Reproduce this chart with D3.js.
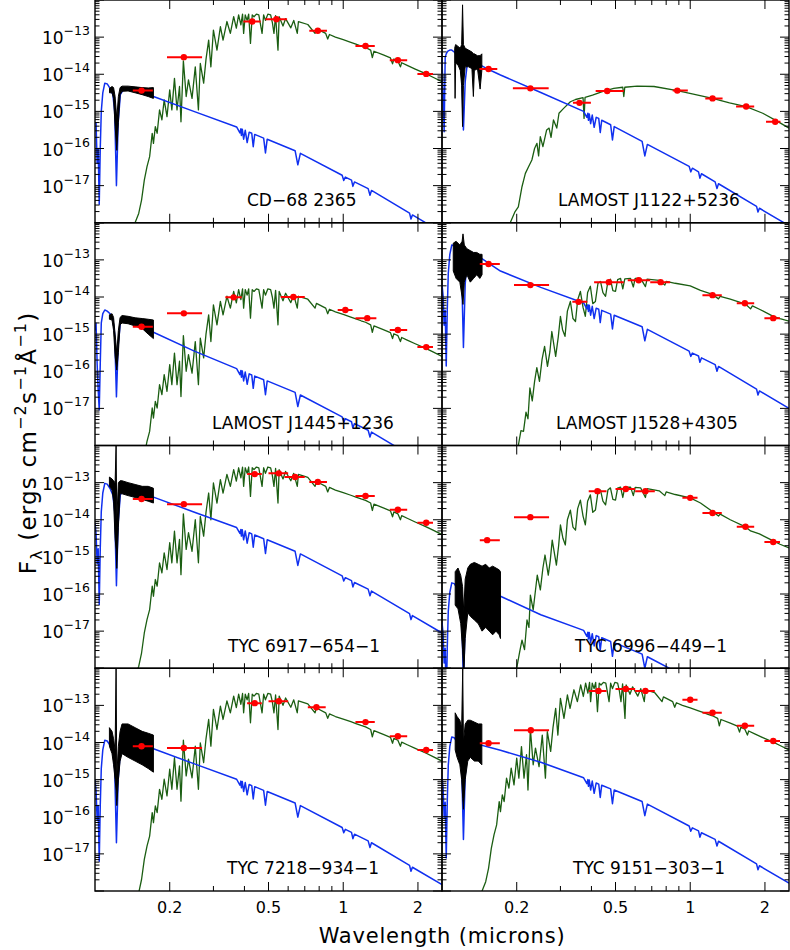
<!DOCTYPE html>
<html><head><meta charset="utf-8">
<script src="https://cdn.jsdelivr.net/npm/d3@7"></script>
<style>body{margin:0;background:#fff;} text{font-family:"DejaVu Sans",sans-serif;}</style>
</head><body>
<svg id="chart" width="790" height="950"></svg>
<script>
// ---------------- DATA ----------------
const panelNames = ["CD\u221268 2365","LAMOST J1122+5236","LAMOST J1445+1236","LAMOST J1528+4305",
  "TYC 6917\u2212654\u22121","TYC 6996\u2212449\u22121","TYC 7218\u2212934\u22121","TYC 9151\u2212303\u22121"];
const xMajorTicks = [0.2, 0.5, 1, 2];
const xTickLabels = ["0.2", "0.5", "1", "2"];
const xMinorTicks = [0.3, 0.4, 0.6, 0.7, 0.8, 0.9];
const yMajorExponents = [-12, -13, -14, -15, -16, -17, -18];
const yLabelExponents = [-13, -14, -15, -16, -17];

// photometry (microns, log10 flux)
const photLam = [
 [0.154,0.228,0.43,0.538,0.79,1.23,1.66,2.16],
 [0.154,0.227,0.358,0.463,0.887,1.23,1.68,2.2],
 [0.154,0.228,0.362,0.63,1.02,1.25,1.66,2.16],
 [0.154,0.227,0.355,0.47,0.62,0.76,1.23,1.66,2.16],
 [0.154,0.228,0.44,0.55,0.64,0.79,1.23,1.66,2.16],
 [0.152,0.227,0.423,0.55,0.66,1.0,1.23,1.67,2.16],
 [0.154,0.228,0.44,0.55,0.78,1.23,1.66,2.16],
 [0.154,0.228,0.427,0.55,0.66,1.0,1.23,1.66,2.16]];
const photLamLo = [
 [0.142,0.195,0.396,0.486,0.73,1.12,1.54,1.99],
 [0.1415,0.193,0.337,0.416,0.85,1.15,1.53,2.02],
 [0.142,0.195,0.335,0.56,0.95,1.12,1.54,1.99],
 [0.142,0.195,0.335,0.41,0.56,0.69,1.12,1.54,1.99],
 [0.142,0.195,0.41,0.50,0.58,0.73,1.12,1.54,1.99],
 [0.142,0.195,0.39,0.50,0.60,0.93,1.12,1.54,1.99],
 [0.142,0.195,0.41,0.50,0.72,1.12,1.54,1.99],
 [0.142,0.195,0.39,0.50,0.60,0.93,1.12,1.54,1.99]];
const photLamHi = [
 [0.171,0.270,0.465,0.594,0.86,1.34,1.81,2.30],
 [0.167,0.269,0.398,0.54,0.978,1.35,1.81,2.31],
 [0.171,0.27,0.39,0.70,1.09,1.36,1.81,2.30],
 [0.171,0.27,0.385,0.54,0.69,0.83,1.34,1.81,2.30],
 [0.171,0.27,0.47,0.60,0.70,0.86,1.34,1.81,2.30],
 [0.171,0.27,0.46,0.60,0.72,1.07,1.34,1.81,2.30],
 [0.171,0.27,0.47,0.60,0.85,1.34,1.81,2.30],
 [0.171,0.27,0.46,0.60,0.72,1.07,1.34,1.81,2.30]];
const photLogFlux = [
 [-14.44,-13.54,-12.58,-12.52,-12.83,-13.24,-13.62,-13.99],
 [-13.86,-14.38,-14.77,-14.45,-14.44,-14.65,-14.87,-15.28],
 [-14.80,-14.44,-14.01,-14.0,-14.35,-14.57,-14.89,-15.35],
 [-13.11,-13.68,-14.13,-13.6,-13.55,-13.6,-13.95,-14.17,-14.57],
 [-13.44,-13.58,-12.77,-12.75,-12.85,-12.98,-13.36,-13.73,-14.08],
 [-14.55,-13.93,-13.23,-13.17,-13.23,-13.41,-13.82,-14.19,-14.60],
 [-14.1,-14.15,-12.94,-12.89,-13.05,-13.45,-13.83,-14.2],
 [-14.02,-13.67,-12.61,-12.56,-12.61,-12.85,-13.20,-13.55,-13.96]];

// observed UV spectra: envelope of the noisy trace (microns, log10 flux)
const uvLam = [
 [0.1144,0.1171,0.1188,0.1205,0.1224,0.1242,0.1262,0.1285,0.1359,0.1451,0.1549,0.1638,0.1719],
 [0.1125,0.1129,0.1135,0.1160,0.1185,0.1200,0.1210,0.1220,0.1240,0.1280,0.1320,0.1338,0.1350,0.1390,0.1424,0.1447],
 [0.1143,0.1171,0.1188,0.1205,0.1224,0.1242,0.1262,0.1285,0.1359,0.1451,0.1549,0.1638,0.1719],
 [0.1110,0.1140,0.1180,0.1205,0.1215,0.1230,0.1260,0.1300,0.1340,0.1380,0.1420,0.1450],
 [0.1143,0.1171,0.1188,0.1205,0.1216,0.1224,0.1242,0.1262,0.1285,0.1359,0.1451,0.1549,0.1638,0.1719],
 [0.1130,0.1160,0.1190,0.1210,0.1224,0.1240,0.1270,0.1300,0.1350,0.1400,0.1450,0.1500,0.1550,0.1600,0.1650,0.1700,0.1720],
 [0.1143,0.1171,0.1188,0.1205,0.1216,0.1224,0.1242,0.1262,0.1285,0.1359,0.1451,0.1549,0.1638,0.1719],
 [0.1130,0.1150,0.1180,0.1200,0.1212,0.1220,0.1240,0.1270,0.1300,0.1350,0.1400,0.1447]];
const uvLogLo = [
 [-14.50,-14.50,-14.65,-15.4,-16.05,-15.3,-14.55,-14.46,-14.45,-14.50,-14.55,-14.60,-14.65],
 [-13.7,-14.65,-13.7,-13.75,-13.9,-14.3,-15.41,-14.3,-13.8,-13.8,-13.85,-14.6,-13.9,-13.85,-14.4,-13.9],
 [-14.60,-14.62,-14.9,-15.6,-15.97,-15.5,-14.75,-14.70,-14.72,-14.78,-14.85,-15.0,-15.12],
 [-13.3,-13.5,-13.6,-14.0,-14.2,-13.6,-13.4,-13.6,-13.5,-13.4,-13.5,-13.4],
 [-13.1,-13.2,-13.5,-14.5,-14.8,-15.31,-14.2,-13.3,-13.3,-13.35,-13.4,-13.45,-13.5,-13.55],
 [-16.3,-16.4,-16.8,-17.5,-18.2,-17.2,-16.5,-16.6,-16.7,-16.8,-17.0,-16.9,-17.0,-17.1,-17.0,-17.1,-17.2],
 [-14.1,-14.3,-14.6,-15.0,-15.3,-15.7,-15.0,-14.5,-14.3,-14.4,-14.5,-14.6,-14.7,-14.8],
 [-14.2,-14.4,-14.6,-15.0,-15.5,-15.8,-15.0,-14.5,-14.4,-14.5,-14.5,-14.6]];
const uvLogHi = [
 [-14.38,-14.33,-14.36,-14.6,-15.2,-14.6,-14.36,-14.32,-14.32,-14.34,-14.36,-14.37,-14.36],
 [-13.3,-13.25,-13.2,-13.25,-13.3,-13.2,-12.13,-13.2,-13.3,-13.35,-13.4,-13.45,-13.45,-13.5,-13.5,-13.45],
 [-14.48,-14.45,-14.55,-15.0,-15.5,-14.9,-14.55,-14.50,-14.52,-14.56,-14.58,-14.60,-14.62],
 [-12.55,-12.5,-12.6,-12.5,-12.3,-12.6,-12.7,-12.75,-12.8,-12.8,-12.85,-12.85],
 [-12.85,-12.9,-12.95,-13.0,-12.0,-14.0,-13.0,-12.95,-12.95,-13.0,-13.05,-13.1,-13.1,-13.15],
 [-15.4,-15.3,-15.5,-15.8,-16.5,-15.6,-15.3,-15.2,-15.15,-15.2,-15.25,-15.2,-15.3,-15.25,-15.3,-15.35,-15.4],
 [-13.6,-13.7,-13.9,-14.2,-12.0,-14.9,-14.1,-13.7,-13.5,-13.5,-13.6,-13.7,-13.75,-13.8],
 [-13.2,-13.3,-13.4,-13.6,-12.0,-14.0,-13.5,-13.4,-13.4,-13.45,-13.5,-13.5]];

// white dwarf model spectra (microns, log10 flux)
const wdLam = [0.1000,0.1010,0.1020,0.1030,0.1040,0.1050,0.1060,0.1075,0.1095,0.1120,0.1150,0.1180,0.1200,0.1220,0.1240,0.1265,0.1300,0.1400,0.1550,0.1720,
 0.250,0.372,0.3835,0.387,0.3889,0.392,0.397,0.403,0.4102,0.418,0.428,0.434,0.440,0.478,0.4861,0.494,0.640,0.6563,0.672,0.990,1.0049,1.020,1.080,1.0938,1.110,1.260,1.2818,1.300,1.850,1.8751,1.900,2.500];
const wdLogFlux = [
 [-15.3,-15.32,-16.4,-16.0,-17.5,-16.0,-15.0,-14.5,-14.24,-14.26,-14.38,-14.55,-15.0,-17.0,-15.3,-14.55,-14.42,-14.44,-14.52,-14.60,
  -15.00,-15.42,-15.58,-15.47,-15.65,-15.48,-15.75,-15.51,-15.84,-15.56,-15.59,-15.95,-15.62,-15.72,-16.12,-15.75,-16.06,-16.44,-16.13,-16.72,-16.86,-16.77,-16.85,-17.02,-16.90,-17.08,-17.26,-17.13,-17.74,-17.90,-17.79,-18.26],
 [-13.6,-14.5,-15.55,-13.55,-13.45,-13.40,-13.37,-13.35,-13.35,-13.40,-13.48,-13.6,-14.0,-15.5,-14.2,-13.7,-13.62,-13.72,-13.88,-14.02,
  -14.49,-15.00,-15.16,-15.05,-15.24,-15.07,-15.33,-15.10,-15.43,-15.16,-15.19,-15.57,-15.24,-15.36,-15.77,-15.41,-15.81,-16.20,-15.89,-16.48,-16.63,-16.53,-16.63,-16.80,-16.68,-16.90,-17.08,-16.95,-17.56,-17.71,-17.61,-18.08],
 [-14.9,-14.71,-15.8,-16.5,-17.04,-15.8,-14.7,-14.45,-14.35,-14.38,-14.45,-14.6,-15.0,-16.69,-15.3,-14.7,-14.6,-14.65,-14.8,-14.95,
  -15.45,-15.93,-16.09,-15.98,-16.16,-15.99,-16.26,-16.02,-16.35,-16.07,-16.10,-16.46,-16.13,-16.23,-16.63,-16.26,-16.57,-16.95,-16.64,-17.23,-17.37,-17.28,-17.36,-17.53,-17.41,-17.59,-17.77,-17.64,-18.25,-18.41,-18.30,-18.77],
 [-13.66,-13.96,-14.76,-14.36,-15.86,-14.36,-13.36,-12.86,-12.60,-12.62,-12.74,-12.91,-13.36,-15.36,-13.66,-12.91,-12.78,-12.9,-13.1,-13.3,
  -13.74,-14.16,-14.32,-14.21,-14.39,-14.22,-14.49,-14.25,-14.58,-14.30,-14.33,-14.69,-14.36,-14.46,-14.86,-14.49,-14.80,-15.18,-14.87,-15.46,-15.60,-15.51,-15.59,-15.76,-15.64,-15.82,-16.00,-15.87,-16.48,-16.64,-16.53,-17.00],
 [-14.08,-14.38,-15.18,-14.78,-16.28,-14.78,-13.78,-13.28,-13.02,-13.04,-13.16,-13.33,-13.78,-15.78,-14.08,-13.33,-13.20,-13.22,-13.30,-13.39,
  -13.79,-14.21,-14.37,-14.26,-14.44,-14.27,-14.54,-14.30,-14.63,-14.35,-14.38,-14.74,-14.41,-14.51,-14.91,-14.54,-14.85,-15.23,-14.92,-15.51,-15.65,-15.56,-15.64,-15.81,-15.69,-15.87,-16.05,-15.92,-16.53,-16.69,-16.58,-17.05],
 [-16.76,-17.06,-17.86,-17.46,-18.96,-17.46,-16.46,-15.96,-15.70,-15.72,-15.84,-16.01,-16.46,-18.46,-16.76,-16.01,-15.88,-15.90,-15.98,-16.06,
  -16.56,-16.98,-17.14,-17.03,-17.21,-17.04,-17.31,-17.07,-17.40,-17.12,-17.15,-17.51,-17.18,-17.28,-17.68,-17.31,-17.62,-18.00,-17.69,-18.28,-18.42,-18.33,-18.41,-18.58,-18.46,-18.64,-18.82,-18.69,-19.30,-19.46,-19.35,-19.82],
 [-15.0,-15.3,-16.1,-15.7,-17.2,-15.7,-14.7,-14.2,-13.94,-13.96,-14.08,-14.25,-14.7,-16.7,-15.0,-14.25,-14.12,-14.12,-14.15,-14.17,
  -14.57,-14.99,-15.15,-15.04,-15.22,-15.05,-15.32,-15.08,-15.41,-15.13,-15.16,-15.52,-15.19,-15.29,-15.69,-15.32,-15.63,-16.01,-15.70,-16.29,-16.43,-16.34,-16.42,-16.59,-16.47,-16.65,-16.83,-16.70,-17.31,-17.47,-17.36,-17.83],
 [-14.91,-15.21,-16.01,-15.61,-17.11,-15.61,-14.61,-14.11,-13.85,-13.87,-13.99,-14.16,-14.61,-16.61,-14.91,-14.16,-14.03,-14.05,-14.13,-14.21,
  -14.53,-14.95,-15.11,-15.00,-15.18,-15.01,-15.28,-15.04,-15.37,-15.09,-15.12,-15.48,-15.15,-15.25,-15.65,-15.28,-15.59,-15.97,-15.66,-16.25,-16.39,-16.30,-16.38,-16.55,-16.43,-16.61,-16.79,-16.66,-17.27,-17.43,-17.32,-17.79]];

// companion star model spectra: templates [micron, log10 flux] and per-panel log scaling
const starTemplateA = [[0.142,-18.6],[0.145,-18.0],[0.150,-17.75],[0.154,-17.39],[0.158,-16.85],[0.162,-16.49],[0.166,-16.22],[0.170,-15.59],[0.172,-15.86],[0.175,-15.41],[0.178,-15.59],[0.182,-14.96],[0.186,-15.23],[0.190,-14.69],[0.195,-15.14],[0.200,-14.42],[0.204,-14.96],[0.209,-14.11],[0.214,-14.96],[0.219,-14.33],[0.222,-15.28],[0.227,-13.64],[0.233,-14.60],[0.238,-14.15],[0.246,-14.65],[0.2535,-13.80],[0.261,-14.96],[0.2656,-13.71],[0.274,-14.24],[0.280,-13.6],[0.287,-13.08],[0.293,-13.80],[0.300,-12.81],[0.310,-13.35],[0.320,-12.72],[0.328,-13.08],[0.340,-12.58],[0.351,-12.90],[0.362,-12.45],[0.371,-12.76],[0.379,-12.40],[0.387,-12.67],[0.393,-12.38],[0.397,-12.90],[0.403,-12.40],[0.410,-12.55],[0.416,-12.38],[0.423,-13.17],[0.430,-12.40],[0.437,-12.45],[0.447,-12.38],[0.457,-12.40],[0.471,-12.90],[0.478,-12.40],[0.486,-12.55],[0.497,-12.38],[0.510,-12.40],[0.518,-12.60],[0.526,-12.90],[0.534,-12.42],[0.546,-13.35],[0.552,-12.45],[0.572,-12.70],[0.586,-12.50],[0.615,-12.75],[0.632,-12.55],[0.653,-12.90],[0.660,-12.58],[0.720,-12.66],[0.770,-12.90],[0.780,-12.77],[0.850,-12.90],[0.866,-13.05],[0.880,-12.93],[0.930,-13.00],[1.000,-13.07],[1.073,-13.14],[1.125,-13.19],[1.180,-13.24],[1.230,-13.28],[1.290,-13.35],[1.310,-13.55],[1.330,-13.38],[1.450,-13.48],[1.550,-13.56],[1.580,-13.72],[1.600,-13.59],[1.660,-13.64],[1.700,-13.80],[1.720,-13.69],[1.810,-13.76],[1.950,-13.86],[2.160,-13.99],[2.300,-14.08],[2.500,-14.20]];
const starTemplateB = [[0.198,-18.4],[0.200,-18.0],[0.205,-17.6],[0.210,-17.24],[0.215,-17.5],[0.220,-16.70],[0.224,-16.9],[0.227,-16.03],[0.233,-16.43],[0.238,-15.9],[0.242,-15.49],[0.249,-15.89],[0.255,-15.3],[0.260,-14.95],[0.268,-15.49],[0.273,-15.1],[0.278,-14.55],[0.289,-15.22],[0.295,-14.7],[0.300,-14.14],[0.307,-14.5],[0.314,-14.68],[0.320,-14.0],[0.329,-13.74],[0.337,-14.2],[0.345,-14.28],[0.352,-13.7],[0.361,-13.47],[0.370,-13.9],[0.378,-14.14],[0.386,-13.5],[0.396,-13.33],[0.405,-13.8],[0.415,-13.74],[0.425,-13.25],[0.435,-13.20],[0.445,-13.5],[0.456,-13.60],[0.466,-13.2],[0.477,-13.14],[0.488,-13.45],[0.500,-13.47],[0.510,-13.15],[0.524,-13.12],[0.535,-13.4],[0.545,-13.13],[0.575,-13.12],[0.59,-13.35],[0.60,-13.13],[0.631,-13.14],[0.66,-13.40],[0.67,-13.16],[0.75,-13.22],[0.79,-13.35],[0.80,-13.25],[0.87,-13.32],[1.0,-13.41],[1.10,-13.55],[1.23,-13.78],[1.30,-13.9],[1.32,-13.85],[1.45,-14.0],[1.67,-14.19],[1.75,-14.3],[1.9,-14.38],[2.16,-14.57],[2.3,-14.66],[2.5,-14.76]];
const starTemplateC = [[0.200,-18.6],[0.203,-18.0],[0.208,-17.6],[0.213,-17.62],[0.218,-17.1],[0.222,-17.28],[0.226,-16.45],[0.231,-16.8],[0.236,-16.28],[0.241,-15.9],[0.247,-16.27],[0.253,-15.68],[0.259,-15.33],[0.266,-15.87],[0.272,-15.48],[0.277,-14.93],[0.287,-15.6],[0.294,-15.08],[0.300,-14.52],[0.306,-14.88],[0.313,-15.06],[0.320,-14.38],[0.329,-14.12],[0.337,-14.58],[0.345,-14.66],[0.352,-14.08],[0.361,-13.85],[0.370,-14.28],[0.378,-14.52],[0.386,-13.88],[0.396,-13.71],[0.405,-14.18],[0.415,-14.12],[0.425,-13.63],[0.435,-13.58],[0.445,-13.88],[0.456,-13.98],[0.466,-13.58],[0.477,-13.52],[0.488,-13.83],[0.500,-13.85],[0.510,-13.53],[0.524,-13.50],[0.535,-13.78],[0.545,-13.51],[0.575,-13.50],[0.59,-13.73],[0.60,-13.50],[0.631,-13.50],[0.66,-13.72],[0.67,-13.52],[0.75,-13.55],[0.79,-13.68],[0.80,-13.58],[0.87,-13.63],[1.0,-13.70],[1.10,-13.82],[1.23,-13.93],[1.30,-14.05],[1.32,-13.98],[1.45,-14.06],[1.67,-14.19],[1.75,-14.32],[1.78,-14.24],[1.9,-14.33],[2.16,-14.52],[2.3,-14.58],[2.5,-14.65]];
const starTemplateS = [[0.185,-18.5],[0.1883,-18.0],[0.197,-17.70],[0.203,-17.57],[0.210,-17.03],[0.2167,-16.67],[0.2232,-16.49],[0.2302,-16.31],[0.236,-16.0],[0.2413,-15.86],[0.245,-16.2],[0.2489,-15.68],[0.255,-15.95],[0.264,-15.50],[0.270,-15.45],[0.275,-15.7],[0.2813,-15.23],[0.290,-15.45],[0.296,-15.05],[0.309,-14.92],[0.329,-14.74],[0.345,-14.68],[0.370,-14.63],[0.3735,-15.19],[0.377,-14.62],[0.404,-14.56],[0.4425,-14.47],[0.492,-14.38],[0.535,-14.35],[0.540,-14.60],[0.545,-14.35],[0.611,-14.32],[0.715,-14.33],[0.887,-14.44],[1.04,-14.54],[1.23,-14.65],[1.44,-14.77],[1.68,-14.87],[1.96,-15.05],[2.22,-15.25],[2.5,-15.45]];
const starTemplateOf = ["A","S","A","C","A","B","A","A"];
const starLogScale = [0, 0, -1.40, 0, -0.2, 0, -0.3, 0];

// ---------------- LAYOUT / STYLE ----------------
const L = 95, R = 789, T = 0, B = 891;
const PW = (R - L) / 2, PH = (B - T) / 4;
const labelLeft = [247, 558, 212, 556, 228, 575, 227, 573];
const COL_STAR = "#1b5e12", COL_WD = "#1030f0", COL_PT = "#ff0000";

const svg = d3.select("#chart");
const templates = {A: starTemplateA, B: starTemplateB, C: starTemplateC, S: starTemplateS};

panelNames.forEach((name, i) => {
  const col = i % 2, row = Math.floor(i / 2);
  const x0 = L + col * PW, y0 = T + row * PH;
  const x = d3.scaleLog().domain([0.1, 2.5]).range([x0, x0 + PW]);
  const y = d3.scaleLog().domain([1e-18, 1e-12]).range([y0 + PH, y0]);
  const fy = v => y(Math.pow(10, v));

  svg.append("clipPath").attr("id", "clip" + i).append("rect")
    .attr("x", x0).attr("y", y0).attr("width", PW).attr("height", PH);
  const g = svg.append("g").attr("clip-path", `url(#clip${i})`);

  const tpl = templates[starTemplateOf[i]];
  const sh = starLogScale[i];
  g.append("path").datum(tpl)
    .attr("d", d3.line().x(d => x(d[0])).y(d => fy(d[1] + sh)))
    .attr("fill", "none").attr("stroke", COL_STAR).attr("stroke-width", 1.3).attr("stroke-linejoin", "round");

  const wd = wdLam.map((l, k) => [l, wdLogFlux[i][k]]);
  g.append("path").datum(wd)
    .attr("d", d3.line().x(d => x(d[0])).y(d => fy(d[1])))
    .attr("fill", "none").attr("stroke", COL_WD).attr("stroke-width", 1.5).attr("stroke-linejoin", "round");

  const uv = uvLam[i].map((l, k) => [l, uvLogLo[i][k], uvLogHi[i][k]]);
  g.append("path").datum(uv)
    .attr("d", d3.area().x(d => x(d[0])).y0(d => fy(d[1])).y1(d => fy(d[2])))
    .attr("fill", "#000").attr("stroke", "#000").attr("stroke-width", 1).attr("stroke-linejoin", "round");

  photLam[i].forEach((l, k) => {
    const yy = fy(photLogFlux[i][k]);
    g.append("line").attr("x1", x(photLamLo[i][k])).attr("x2", x(photLamHi[i][k]))
      .attr("y1", yy).attr("y2", yy).attr("stroke", COL_PT).attr("stroke-width", 2);
    g.append("circle").attr("cx", x(l)).attr("cy", yy).attr("r", 3.2).attr("fill", COL_PT);
  });

  svg.append("rect").attr("x", x0).attr("y", y0).attr("width", PW).attr("height", PH)
    .attr("fill", "none").attr("stroke", "#000").attr("stroke-width", 1.4);

  const ax = svg.append("g").attr("stroke", "#000").attr("stroke-width", 1);
  xMajorTicks.concat(xMinorTicks).forEach(v => {
    const len = xMajorTicks.includes(v) ? 9 : 5;
    ax.append("line").attr("x1", x(v)).attr("x2", x(v)).attr("y1", y0 + PH).attr("y2", y0 + PH - len);
    ax.append("line").attr("x1", x(v)).attr("x2", x(v)).attr("y1", y0).attr("y2", y0 + len);
  });
  yMajorExponents.forEach(e => {
    for (let m = 1; m <= 9; m++) {
      const v = m * Math.pow(10, e);
      if (v < 1e-18 || v > 1e-12) continue;
      const len = m === 1 ? 9 : 4.5;
      const yy = y(v);
      ax.append("line").attr("x1", x0).attr("x2", x0 + len).attr("y1", yy).attr("y2", yy);
      ax.append("line").attr("x1", x0 + PW).attr("x2", x0 + PW - len).attr("y1", yy).attr("y2", yy);
    }
  });

  if (col === 0) {
    yLabelExponents.forEach(e => {
      const t = svg.append("text").attr("x", 90).attr("y", y(Math.pow(10, e)) + 7)
        .attr("text-anchor", "end").attr("font-size", 17);
      t.append("tspan").text("10");
      t.append("tspan").attr("font-size", 12.5).attr("dy", -9).text("\u2212" + String(-e));
    });
  }
  if (row === 3) {
    xMajorTicks.forEach((v, k) => {
      svg.append("text").attr("x", x(v)).attr("y", B + 22).attr("text-anchor", "middle")
        .attr("font-size", 16).text(xTickLabels[k]);
    });
  }
  svg.append("text").attr("x", labelLeft[i]).attr("y", y0 + 206).attr("font-size", 17).text(name);
});

svg.append("text").attr("x", (L + R) / 2).attr("y", 943).attr("text-anchor", "middle")
  .attr("font-size", 21).attr("letter-spacing", 0.8).text("Wavelength (microns)");
const yt = svg.append("text").attr("transform", "translate(36,443) rotate(-90)")
  .attr("text-anchor", "middle").attr("font-size", 23).attr("letter-spacing", 1.2);
yt.append("tspan").text("F");
yt.append("tspan").attr("font-size", 16).attr("dy", 6).text("\u03bb");
yt.append("tspan").attr("dy", -6).text(" (ergs cm");
yt.append("tspan").attr("font-size", 16).attr("dy", -10).text("\u22122");
yt.append("tspan").attr("dy", 10).text("s");
yt.append("tspan").attr("font-size", 16).attr("dy", -10).text("\u22121");
yt.append("tspan").attr("dy", 10).text("\u00c5");
yt.append("tspan").attr("font-size", 16).attr("dy", -10).text("\u22121");
yt.append("tspan").attr("dy", 10).text(")");
</script>
</body></html>
